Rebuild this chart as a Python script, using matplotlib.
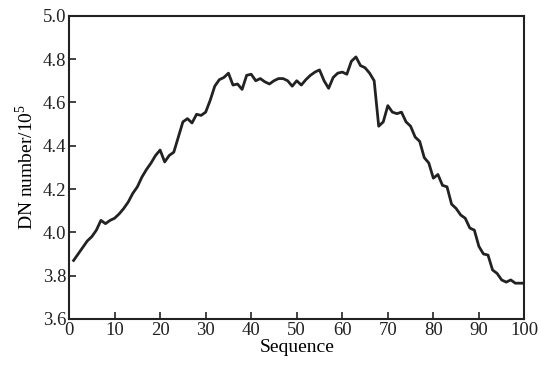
import numpy as np
import matplotlib
matplotlib.use("Agg")
import matplotlib.pyplot as plt

plt.rcParams['font.family'] = ['Liberation Serif', 'DejaVu Serif']
plt.rcParams['mathtext.fontset'] = 'custom'
plt.rcParams['mathtext.rm'] = 'Liberation Serif'

# Data
sequence = np.arange(1, 101)
dn_number = [
    3.87, 3.90, 3.93, 3.96, 3.98, 4.01, 4.055, 4.04, 4.055, 4.065,
    4.085, 4.11, 4.14, 4.18, 4.21, 4.255, 4.29, 4.32, 4.355, 4.38,
    4.325, 4.355, 4.37, 4.44, 4.51, 4.525, 4.505, 4.545, 4.54, 4.555,
    4.61, 4.675, 4.705, 4.715, 4.735, 4.68, 4.685, 4.66, 4.725, 4.73,
    4.70, 4.71, 4.695, 4.685, 4.70, 4.71, 4.71, 4.70, 4.675, 4.70,
    4.68, 4.705, 4.725, 4.74, 4.75, 4.70, 4.665, 4.715, 4.735, 4.74,
    4.73, 4.79, 4.81, 4.77, 4.76, 4.735, 4.70, 4.49, 4.51, 4.585,
    4.555, 4.548, 4.555, 4.51, 4.49, 4.44, 4.42, 4.345, 4.32, 4.25,
    4.267, 4.217, 4.21, 4.13, 4.11, 4.08, 4.065, 4.02, 4.01, 3.935,
    3.90, 3.895, 3.826, 3.81, 3.78, 3.77, 3.78, 3.765, 3.765, 3.765,
]
x_ticks = np.arange(0, 101, 10)
y_ticks = np.arange(3.6, 5.01, 0.2)

fig = plt.figure(figsize=(5.48, 3.67), dpi=100)
ax = fig.add_axes([0.126, 0.131, 0.831, 0.826])

ax.plot(sequence, dn_number, color='#222222', linewidth=2.0)

ax.set_xlim(0, 100)
ax.set_ylim(3.6, 5.0)
ax.set_xticks(x_ticks)
ax.set_yticks(y_ticks)
ax.set_yticklabels([f"{v:.1f}" for v in y_ticks])
ax.tick_params(direction='in', length=5, width=1.2, labelsize=13.5,
               top=False, right=False, colors='#222222')
ax.tick_params(axis='x', pad=2)
ax.tick_params(axis='y', pad=2)

for s in ax.spines.values():
    s.set_linewidth(1.5)
    s.set_color('#222222')

ax.set_xlabel("Sequence", fontsize=14, labelpad=0)
ax.set_ylabel(r"DN number/10$^{\mathregular{5}}$", fontsize=14, labelpad=4)

fig.savefig("out.png", dpi=100)
